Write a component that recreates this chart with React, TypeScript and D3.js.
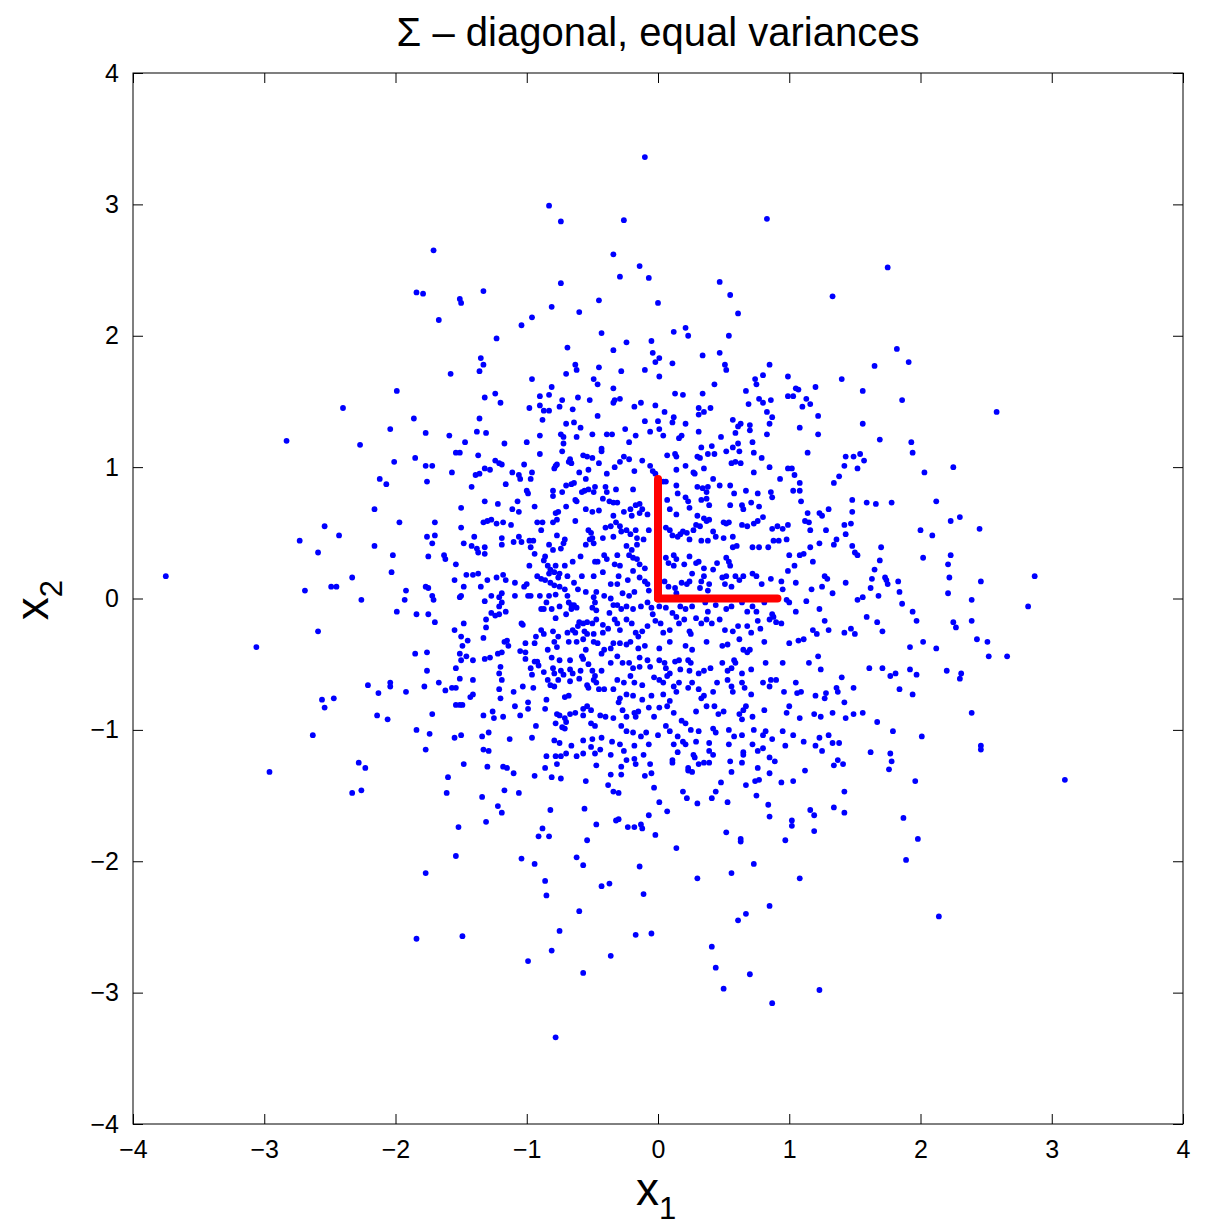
import React, { useRef, useEffect } from 'react';
import * as d3 from 'd3';

// tick values shared by both axes
const tickValues = [-4, -3, -2, -1, 0, 1, 2, 3, 4];
const chartTitle = 'Σ – diagonal, equal variances';

// eigenvector directions drawn in red from the origin
const eigenvectors = [
  [0, 0.91],
  [0.91, 0],
];

// samples
const outerLeftPoints = [
  [-2.40, 1.45], [-2.83, 1.20], [-2.27, 1.17],
  [-2.12, 0.91], [-2.16, 0.68], [-2.54, 0.55], [-2.43, 0.48], [-2.73, 0.44], [-2.59, 0.35], [-2.16, 0.40],
  [-3.75, 0.17], [-2.33, 0.16], [-2.49, 0.09], [-2.45, 0.09], [-2.69, 0.06], [-2.26, -0.01], [-2.59, -0.25],
  [-3.06, -0.37], [-2.21, -0.66], [-2.13, -0.72], [-2.56, -0.77], [-2.47, -0.76], [-2.54, -0.83], [-2.14, -0.89],
  [-2.63, -1.04], [-2.96, -1.32], [-2.28, -1.25], [-2.23, -1.29], [-2.33, -1.48], [-2.26, -1.46],
];

const upperLeftPoints = [
  [-0.83, 2.99], [-0.74, 2.87], [-1.71, 2.65], [-0.34, 2.62], [-1.84, 2.33], [-1.79, 2.32], [-1.51, 2.28], [-1.50, 2.25],
  [-1.33, 2.34], [-0.74, 2.40], [-0.81, 2.22], [-0.96, 2.14], [-1.04, 2.08], [-0.60, 2.18], [-0.45, 2.27], [-1.67, 2.12],
  [-0.43, 2.02], [-0.34, 1.89], [-1.23, 1.98], [-1.35, 1.83], [-1.33, 1.78], [-1.36, 1.73], [-1.58, 1.71], [-0.69, 1.91],
  [-0.63, 1.78], [-0.62, 1.74], [-0.70, 1.71], [-0.45, 1.76], [-0.96, 1.67], [-0.49, 1.67], [-0.46, 1.63], [-0.34, 1.60],
  [-1.99, 1.58], [-0.81, 1.61], [-0.90, 1.54], [-0.83, 1.55], [-1.24, 1.56], [-1.32, 1.53], [-1.20, 1.49], [-0.73, 1.51],
  [-0.61, 1.53], [-0.52, 1.51], [-0.34, 1.49], [-0.33, 1.51], [-0.98, 1.45], [-0.90, 1.47], [-0.87, 1.43], [-0.83, 1.43],
  [-0.75, 1.46], [-0.65, 1.44], [-0.46, 1.39], [-1.86, 1.37], [-1.36, 1.37], [-0.88, 1.36], [-0.70, 1.33], [-0.64, 1.34],
  [-0.59, 1.30], [-2.04, 1.29], [-1.77, 1.26], [-1.59, 1.24], [-1.38, 1.27], [-1.31, 1.26], [-1.47, 1.19], [-1.17, 1.18],
  [-1.00, 1.19], [-0.90, 1.24], [-0.74, 1.25], [-0.72, 1.23], [-0.72, 1.18], [-0.62, 1.23], [-0.50, 1.25], [-0.39, 1.25],
  [-0.35, 1.25], [-0.43, 1.14],
];

const upperRightPoints = [
  [-0.10, 3.36], [-0.26, 2.88], [0.83, 2.89], [-0.14, 2.53], [-0.29, 2.45], [-0.07, 2.44], [0.47, 2.41], [0.55, 2.31],
  [0.61, 2.17], [1.33, 2.30], [0.00, 2.25], [0.12, 2.03], [0.21, 2.06], [0.23, 2.00], [0.54, 2.00], [-0.24, 1.95],
  [-0.05, 1.96], [-0.04, 1.87], [0.01, 1.83], [-0.02, 1.80], [0.11, 1.79], [0.34, 1.85], [0.47, 1.87], [0.51, 1.78],
  [0.52, 1.74], [0.85, 1.78], [-0.28, 1.73], [-0.10, 1.74], [0.01, 1.69], [0.43, 1.63], [0.74, 1.67], [0.75, 1.63],
  [0.80, 1.70], [0.99, 1.69], [1.40, 1.67], [-0.29, 1.52], [-0.18, 1.46], [-0.13, 1.49], [-0.02, 1.47], [0.13, 1.56],
  [0.19, 1.55], [0.34, 1.56], [0.67, 1.58], [0.77, 1.52], [0.80, 1.49], [0.86, 1.51], [0.69, 1.48], [1.05, 1.60],
  [1.07, 1.59], [0.99, 1.54], [1.03, 1.54], [1.20, 1.61], [1.13, 1.52], [1.16, 1.48], [1.10, 1.46], [1.22, 1.39],
  [0.05, 1.42], [0.31, 1.45], [0.35, 1.42], [0.40, 1.45], [0.31, 1.40], [0.83, 1.42], [0.87, 1.38], [0.57, 1.36],
  [-0.10, 1.35], [0.00, 1.35], [0.01, 1.29], [0.11, 1.34], [0.12, 1.38], [0.21, 1.33], [-0.25, 1.29], [-0.06, 1.27],
  [-0.17, 1.24], [0.04, 1.24], [0.16, 1.22], [0.18, 1.24], [0.31, 1.27], [0.48, 1.23], [0.59, 1.26], [0.61, 1.31],
  [0.63, 1.33], [0.70, 1.32], [0.70, 1.28], [0.83, 1.25], [0.85, 1.33], [1.08, 1.30], [1.22, 1.25], [-0.22, 1.19],
  [0.33, 1.15], [0.41, 1.16], [0.57, 1.15], [0.61, 1.18], [0.72, 1.19],
  [1.75, 2.52], [1.82, 1.90], [1.65, 1.77], [1.91, 1.80], [1.56, 1.58], [1.86, 1.51], [2.58, 1.42], [1.56, 1.33],
  [1.69, 1.21], [1.93, 1.19],
];

const centerLeftPoints = [
  [-2.01, 1.04], [-1.85, 1.07], [-1.77, 1.01], [-1.72, 1.01], [-1.76, 0.89], [-2.07, 0.87], [-1.57, 0.96], [-1.54, 1.11],
  [-1.51, 1.11], [-1.37, 1.09], [-1.42, 0.85], [-1.32, 0.99], [-1.28, 0.98], [-1.39, 0.94], [-1.36, 0.95], [-1.24, 1.05],
  [-1.21, 1.03], [-1.19, 1.02], [-1.16, 0.87], [-1.11, 0.96], [-1.06, 0.94], [-1.05, 0.91], [-1.02, 1.02], [-0.96, 0.96],
  [-0.97, 0.91], [-0.90, 1.10], [-1.00, 0.82], [-0.99, 0.80], [-0.73, 1.12], [-0.78, 1.01], [-0.79, 0.99], [-0.77, 1.02],
  [-0.68, 1.04], [-0.67, 1.06], [-0.66, 1.03], [-0.57, 1.09], [-0.54, 1.08], [-0.50, 1.07], [-0.43, 1.12], [-0.45, 1.03],
  [-0.60, 0.96], [-0.53, 0.98], [-0.39, 0.95], [-0.33, 1.00], [-0.55, 0.91], [-0.70, 0.86], [-0.66, 0.87], [-0.64, 0.88],
  [-0.80, 0.82], [-0.80, 0.78], [-0.58, 0.81], [-0.56, 0.82], [-0.53, 0.83], [-0.49, 0.81], [-0.48, 0.85], [-0.40, 0.85],
  [-0.39, 0.81], [-0.42, 0.76], [-0.37, 0.74], [-0.34, 0.73], [-0.73, 0.81], [-0.63, 0.75], [-0.62, 0.74], [-0.55, 0.68],
  [-0.50, 0.66], [-0.45, 0.67], [-0.34, 0.63],
  [-1.50, 0.69], [-1.32, 0.74], [-1.22, 0.72], [-1.07, 0.74], [-1.11, 0.68], [-1.06, 0.66], [-0.94, 0.70], [-0.78, 0.65],
  [-0.76, 0.66], [-0.70, 0.70], [-1.97, 0.58], [-1.70, 0.58], [-1.50, 0.54], [-1.33, 0.58], [-1.30, 0.59], [-1.27, 0.60],
  [-1.23, 0.57], [-1.18, 0.58], [-1.12, 0.56], [-0.92, 0.58], [-0.88, 0.58], [-0.89, 0.52], [-0.80, 0.58], [-0.77, 0.60],
  [-0.63, 0.59], [-0.53, 0.52], [-0.51, 0.50], [-0.50, 0.46], [-0.52, 0.45], [-0.49, 0.42], [-0.55, 0.41], [-0.40, 0.54],
  [-0.36, 0.55], [-0.42, 0.46], [-0.34, 0.47], [-1.76, 0.47], [-1.70, 0.48], [-1.72, 0.42], [-1.48, 0.42], [-1.40, 0.47],
  [-1.42, 0.40], [-1.38, 0.38], [-1.32, 0.39], [-1.37, 0.35], [-1.32, 0.34], [-1.19, 0.46], [-1.19, 0.41], [-1.10, 0.43],
  [-1.06, 0.47], [-1.04, 0.43], [-0.98, 0.44], [-0.95, 0.44], [-0.97, 0.39], [-0.94, 0.34], [-0.83, 0.41], [-0.80, 0.37],
  [-0.77, 0.48], [-0.71, 0.45], [-0.72, 0.42], [-0.74, 0.38], [-0.86, 0.32], [-0.87, 0.29],
  [-2.02, 0.33], [-1.75, 0.32], [-1.63, 0.33], [-1.62, 0.30], [-1.54, 0.26], [-2.03, 0.20], [-0.98, 0.25], [-0.84, 0.25],
  [-0.82, 0.22], [-0.78, 0.25], [-0.71, 0.25], [-0.65, 0.28], [-0.59, 0.32], [-0.48, 0.28], [-0.46, 0.28], [-0.41, 0.33],
  [-0.39, 0.30], [-0.33, 0.26], [-0.92, 0.17], [-0.89, 0.15], [-0.86, 0.14], [-0.83, 0.19], [-0.79, 0.20], [-0.75, 0.19],
  [-0.82, 0.12], [-0.79, 0.10], [-0.75, 0.09], [-0.76, 0.16], [-0.69, 0.17], [-0.64, 0.12], [-0.58, 0.17], [-0.49, 0.17],
  [-0.42, 0.20], [-0.36, 0.11], [-1.55, 0.14], [-1.46, 0.18], [-1.41, 0.18], [-1.37, 0.19], [-1.48, 0.09], [-1.35, 0.09],
  [-1.30, 0.14], [-1.23, 0.16], [-1.18, 0.18], [-1.16, 0.14], [-1.09, 0.12], [-1.02, 0.09], [-1.00, 0.11], [-0.99, 0.02],
  [-0.97, 0.02], [-1.19, 0.04], [-1.21, 0.01], [-1.19, -0.03], [-1.27, 0.02], [-1.32, -0.02], [-1.50, 0.02], [-1.51, 0.01],
  [-1.77, 0.09], [-1.75, 0.08], [-1.92, 0.06], [-1.93, -0.01], [-1.72, 0.02], [-1.71, -0.01], [-1.09, 0.02], [-0.90, 0.02],
  [-0.83, 0.02], [-0.78, 0.03], [-0.71, 0.07], [-0.69, 0.02], [-0.61, 0.07], [-0.55, 0.05], [-0.47, 0.05], [-0.49, 0.01],
  [-0.41, 0.02], [-0.36, 0.00], [-0.34, -0.05],
  [-1.99, -0.10], [-1.84, -0.12], [-1.75, -0.12], [-1.70, -0.18], [-1.16, -0.10], [-1.21, -0.06], [-1.27, -0.11],
  [-1.24, -0.13], [-1.21, -0.12], [-1.31, -0.16], [-1.31, -0.22], [-1.04, -0.19], [-1.03, -0.20], [-0.85, -0.03],
  [-0.87, -0.08], [-0.89, -0.08], [-0.81, -0.08], [-0.78, -0.15], [-0.75, -0.06], [-0.68, -0.03], [-0.66, -0.05],
  [-0.64, -0.05], [-0.66, -0.08], [-0.62, -0.07], [-0.70, -0.12], [-0.60, -0.18], [-0.57, -0.19], [-0.54, -0.18],
  [-0.50, -0.19], [-0.47, -0.16], [-0.47, -0.09], [-0.50, -0.07], [-0.48, -0.03], [-0.37, -0.11], [-0.33, -0.16],
  [-0.42, -0.20], [-0.38, -0.23], [-1.48, -0.19], [-1.55, -0.24], [-1.50, -0.29], [-1.45, -0.32], [-1.33, -0.30],
  [-1.15, -0.32], [-1.17, -0.33], [-1.14, -0.36], [-0.93, -0.29], [-0.94, -0.34], [-0.89, -0.24], [-0.87, -0.27],
  [-0.80, -0.25], [-0.79, -0.33], [-0.76, -0.29], [-0.69, -0.26], [-0.65, -0.24], [-0.63, -0.26], [-0.61, -0.21],
  [-0.56, -0.25], [-0.54, -0.27], [-0.49, -0.27], [-0.42, -0.26], [-0.57, -0.31], [-0.68, -0.33], [-0.62, -0.33],
  [-0.49, -0.33], [-0.46, -0.34], [-0.34, -0.34], [-1.01, -0.34], [-1.05, -0.40], [-1.01, -0.41], [-0.84, -0.39],
  [-0.77, -0.37], [-0.55, -0.39], [-0.41, -0.39], [-0.36, -0.38], [-1.85, -0.42], [-1.76, -0.41], [-1.49, -0.36],
  [-1.51, -0.42],
];

const lowerLeftPoints = [
  [-1.50, -0.47], [-1.46, -0.44], [-1.41, -0.47], [-1.32, -0.46], [-1.28, -0.45], [-1.22, -0.42], [-1.19, -0.41],
  [-1.01, -0.46], [-0.94, -0.48], [-0.92, -0.48], [-0.91, -0.51], [-0.97, -0.53], [-0.81, -0.45], [-0.75, -0.47],
  [-0.67, -0.47], [-0.58, -0.44], [-0.57, -0.46], [-0.53, -0.50], [-0.43, -0.42], [-0.36, -0.49], [-1.76, -0.55],
  [-1.54, -0.53], [-1.20, -0.52], [-1.21, -0.57], [-0.96, -0.58], [-0.87, -0.56], [-0.80, -0.53], [-0.79, -0.57],
  [-0.74, -0.55], [-0.72, -0.58], [-0.67, -0.54], [-0.65, -0.57], [-0.59, -0.55], [-0.50, -0.55], [-0.48, -0.59],
  [-0.43, -0.55], [-1.67, -0.64], [-1.78, -0.67], [-2.04, -0.64], [-2.04, -0.67], [-1.92, -0.71], [-1.62, -0.70],
  [-1.57, -0.68], [-1.54, -0.68], [-1.51, -0.61], [-1.41, -0.62], [-1.19, -0.62], [-1.10, -0.71], [-1.03, -0.67],
  [-0.95, -0.68], [-0.84, -0.62], [-0.82, -0.66], [-0.79, -0.67], [-0.76, -0.62], [-0.67, -0.63], [-0.60, -0.61],
  [-0.54, -0.66], [-0.53, -0.68], [-0.49, -0.62], [-0.47, -0.64], [-0.45, -0.69], [-0.41, -0.69], [-0.34, -0.69],
  [-1.20, -0.76], [-1.21, -0.69], [-1.43, -0.75], [-1.41, -0.73], [-1.54, -0.81], [-1.51, -0.81], [-1.49, -0.81],
  [-1.72, -0.88], [-2.06, -0.92], [-1.84, -1.00], [-1.74, -1.03], [-1.33, -0.89], [-1.26, -0.86], [-1.25, -0.91],
  [-1.18, -0.90], [-1.09, -0.82], [-1.05, -0.89], [-0.99, -0.84], [-0.99, -0.79], [-0.86, -0.84], [-0.85, -0.77],
  [-0.77, -0.88], [-0.75, -0.89], [-0.71, -0.75], [-0.68, -0.74], [-0.71, -0.91], [-0.70, -0.94], [-0.93, -0.97],
  [-0.67, -0.88], [-0.63, -0.87], [-0.57, -0.84], [-0.54, -0.82], [-0.57, -0.89], [-0.51, -0.85], [-0.48, -0.97],
  [-0.51, -0.95], [-0.44, -0.89], [-0.40, -0.90], [-0.34, -0.91], [-0.73, -0.98], [-0.71, -0.99], [-0.78, -0.95],
  [-1.50, -1.04], [-1.55, -1.06], [-1.29, -1.02], [-1.34, -1.05], [-1.13, -1.07], [-0.96, -1.06], [-0.79, -1.08],
  [-0.75, -1.10], [-0.66, -1.12], [-0.57, -1.08], [-0.50, -1.07], [-0.43, -1.06], [-0.35, -1.09], [-0.51, -1.13],
  [-1.77, -1.15], [-1.33, -1.15], [-1.29, -1.16], [-1.48, -1.26], [-1.30, -1.28], [-1.18, -1.28], [-1.15, -1.29],
  [-1.10, -1.33], [-1.60, -1.36], [-1.61, -1.48], [-1.34, -1.51], [-1.17, -1.46], [-1.06, -1.48], [-1.22, -1.58],
  [-1.19, -1.63], [-1.52, -1.74], [-1.31, -1.70], [-0.94, -1.35], [-0.85, -1.20], [-0.86, -1.29], [-0.78, -1.20],
  [-0.74, -1.20], [-0.77, -1.26], [-0.70, -1.18], [-0.81, -1.36], [-0.74, -1.37], [-0.62, -1.20], [-0.57, -1.18],
  [-0.48, -1.18], [-0.44, -1.15], [-0.36, -1.19], [-0.47, -1.27], [-0.36, -1.34], [-0.55, -1.39], [-0.38, -1.42],
  [-0.34, -1.47], [-0.82, -1.61], [-0.56, -1.60], [-0.47, -1.72], [-0.32, -1.69], [-0.88, -1.75], [-0.91, -1.81],
  [-0.83, -1.81], [-0.54, -1.84], [-1.54, -1.96], [-1.77, -2.09], [-1.04, -1.98], [-0.94, -2.02], [-0.62, -1.97],
  [-0.57, -2.03], [-0.86, -2.15], [-0.85, -2.26], [-0.43, -2.19], [-0.37, -2.17], [-0.60, -2.38], [-0.75, -2.53],
  [-1.84, -2.59], [-1.49, -2.57], [-0.81, -2.68], [-0.99, -2.76], [-0.57, -2.85], [-0.36, -2.72], [-0.78, -3.34],
];

const centerRightPoints = [
  [-0.26, 1.08], [-0.22, 1.06], [-0.12, 1.05], [-0.06, 1.01], [-0.04, 0.97], [-0.02, 0.95], [-0.18, 0.97], [-0.29, 1.04],
  [0.07, 1.09], [0.13, 1.10], [0.14, 1.08], [0.21, 1.01], [0.14, 0.98], [0.27, 0.96], [0.28, 0.95], [0.30, 1.08],
  [0.32, 1.07], [0.35, 0.99], [0.38, 1.10], [0.43, 1.10], [0.52, 1.12], [0.56, 1.03], [0.59, 1.04], [0.63, 1.03],
  [0.62, 1.12], [0.73, 1.11], [0.73, 0.96], [0.79, 1.07], [0.85, 1.00], [0.93, 0.91], [0.99, 0.99], [1.02, 0.99],
  [1.04, 0.94], [1.08, 0.88], [1.14, 1.11], [1.34, 0.88], [1.38, 0.93], [1.42, 1.01], [1.43, 1.08], [0.06, 0.89],
  [0.04, 0.89], [0.14, 0.86], [0.15, 0.80], [0.21, 0.77], [0.30, 0.85], [0.34, 0.84], [0.38, 0.85], [0.37, 0.81],
  [0.42, 0.91], [0.47, 0.86], [0.55, 0.86], [0.58, 0.80], [0.67, 0.82], [0.76, 0.80], [0.86, 0.81], [0.87, 0.77],
  [0.77, 0.70], [0.71, 0.73], [0.64, 0.71], [0.65, 0.68], [0.55, 0.71], [1.03, 0.82], [1.08, 0.82], [1.09, 0.74],
  [-0.19, 0.83], [-0.32, 0.83], [-0.26, 0.66], [-0.21, 0.68], [-0.17, 0.71], [-0.14, 0.72], [-0.12, 0.68], [-0.14, 0.65],
  [-0.20, 0.63], [-0.31, 0.73], [-0.08, 0.64], [0.07, 0.75], [0.09, 0.68], [0.14, 0.64], [0.23, 0.74], [0.24, 0.69],
  [0.33, 0.75], [0.37, 0.76], [0.39, 0.71],
  [-0.32, 0.58], [-0.29, 0.55], [-0.28, 0.51], [-0.24, 0.52], [-0.21, 0.49], [-0.17, 0.52], [-0.16, 0.46], [-0.11, 0.45],
  [-0.24, 0.40], [-0.20, 0.37], [-0.16, 0.41], [-0.07, 0.52], [0.06, 0.54], [0.09, 0.52], [0.11, 0.48], [0.15, 0.47],
  [0.17, 0.49], [0.19, 0.51], [0.22, 0.50], [0.24, 0.45], [0.27, 0.52], [0.30, 0.63], [0.35, 0.61], [0.37, 0.59],
  [0.39, 0.60], [0.29, 0.56], [0.32, 0.55], [0.42, 0.51], [0.44, 0.47], [0.50, 0.58], [0.52, 0.57], [0.54, 0.58],
  [0.57, 0.47], [0.64, 0.56], [0.68, 0.55], [0.73, 0.57], [0.76, 0.59], [0.80, 0.62], [0.87, 0.53], [0.91, 0.55],
  [0.95, 0.53], [0.99, 0.56], [0.88, 0.44], [0.92, 0.44], [0.98, 0.45], [0.77, 0.39], [0.84, 0.39], [0.72, 0.39],
  [0.57, 0.39], [0.60, 0.40], [0.50, 0.46], [0.33, 0.44], [0.38, 0.44], [1.14, 0.65], [1.23, 0.65], [1.25, 0.63],
  [1.30, 0.68], [1.12, 0.59], [1.15, 0.58], [1.16, 0.52], [1.28, 0.52], [1.34, 0.41], [1.36, 0.45], [1.42, 0.56],
  [1.43, 0.49], [1.16, 0.39], [1.23, 0.42],
  [-0.31, 0.33], [-0.29, 0.25], [-0.30, 0.17], [-0.31, 0.11], [-0.22, 0.33], [-0.19, 0.31], [-0.16, 0.30], [-0.14, 0.26],
  [-0.10, 0.23], [-0.19, 0.21], [-0.23, 0.14], [-0.14, 0.16], [-0.10, 0.13], [-0.08, 0.11], [-0.07, 0.06], [-0.27, 0.04],
  [-0.22, 0.02], [-0.18, 0.05], [0.06, 0.31], [0.12, 0.33], [0.14, 0.30], [0.08, 0.27], [0.12, 0.25], [0.24, 0.32],
  [0.29, 0.27], [0.31, 0.28], [0.20, 0.26], [0.26, 0.19], [0.35, 0.23], [0.42, 0.22], [0.45, 0.27], [0.52, 0.31],
  [0.54, 0.28], [0.55, 0.25], [0.49, 0.16], [0.52, 0.17], [0.59, 0.17], [0.62, 0.14], [0.65, 0.17], [0.72, 0.19],
  [0.75, 0.17], [0.79, 0.11], [0.86, 0.15], [0.94, 0.13], [0.99, 0.21], [1.00, 0.33], [1.08, 0.33], [1.11, 0.34],
  [1.04, 0.25], [1.18, 0.28], [1.27, 0.17], [1.29, 0.15], [1.25, 0.09], [1.17, 0.07], [1.05, 0.12], [1.33, 0.04],
  [1.43, 0.12], [0.18, 0.12], [0.22, 0.11], [0.24, 0.13], [0.33, 0.13], [0.35, 0.17], [0.39, 0.11], [0.13, 0.08],
  [0.14, 0.04], [0.05, 0.13], [0.08, 0.09], [0.32, 0.08], [0.38, 0.06], [0.51, 0.11], [0.56, 0.09],
  [-0.31, -0.05], [-0.28, -0.08], [-0.24, -0.06], [-0.19, -0.08], [-0.13, -0.06], [-0.08, -0.03], [-0.05, -0.07],
  [-0.04, -0.12], [0.01, -0.06], [0.06, -0.07], [0.11, -0.11], [0.14, -0.14], [0.17, -0.06], [0.21, -0.08],
  [0.26, -0.06], [0.29, -0.15], [0.36, -0.03], [0.38, -0.10], [0.44, -0.05], [0.52, -0.08], [0.56, -0.06],
  [0.64, -0.03], [0.68, -0.10], [0.72, -0.06], [0.75, -0.10], [0.81, -0.03], [0.85, -0.16], [0.87, -0.12],
  [0.95, 0.07], [0.98, -0.01], [1.00, -0.03], [0.94, -0.19], [1.05, -0.10], [1.13, -0.02], [1.23, -0.08],
  [1.27, -0.17], [1.30, -0.24], [1.42, -0.26], [1.18, -0.24], [1.21, -0.27], [1.07, -0.32], [1.11, -0.31],
  [1.00, -0.34], [0.88, -0.14], [0.90, -0.18], [-0.31, -0.19], [-0.29, -0.24], [-0.24, -0.16], [-0.20, -0.19],
  [-0.17, -0.26], [-0.15, -0.29], [-0.12, -0.25], [-0.08, -0.21], [-0.02, -0.17], [0.02, -0.19], [0.09, -0.24],
  [0.04, -0.26], [0.16, -0.19], [0.20, -0.16], [0.24, -0.25], [0.25, -0.27], [0.33, -0.19], [0.37, -0.16],
  [0.41, -0.19], [0.47, -0.16], [0.51, -0.24], [0.57, -0.25], [0.61, -0.21], [0.68, -0.21], [0.71, -0.26],
  [0.76, -0.17], [0.78, -0.23], [0.81, -0.33], [-0.29, -0.34], [-0.24, -0.35], [-0.21, -0.33], [-0.15, -0.38],
  [-0.10, -0.36], [0.01, -0.38], [0.09, -0.33], [0.21, -0.36], [0.26, -0.39], [0.37, -0.33], [0.49, -0.36],
  [0.53, -0.35], [0.62, -0.31], [0.65, -0.39], [0.70, -0.39],
];

const lowerRightPoints = [
  [-0.31, -0.44], [-0.27, -0.49], [-0.22, -0.49], [-0.19, -0.53], [-0.14, -0.45], [-0.14, -0.52], [-0.08, -0.47],
  [-0.06, -0.52], [0.01, -0.47], [0.05, -0.49], [0.06, -0.53], [0.09, -0.57], [0.13, -0.48], [0.16, -0.47],
  [0.23, -0.47], [0.25, -0.49], [0.17, -0.54], [0.24, -0.55], [0.31, -0.57], [0.35, -0.55], [0.40, -0.53],
  [0.49, -0.49], [0.53, -0.55], [0.56, -0.53], [0.58, -0.47], [0.59, -0.49], [0.64, -0.57], [0.68, -0.41],
  [0.71, -0.54], [0.82, -0.49], [0.90, -0.62], [0.86, -0.62], [0.95, -0.49], [1.05, -0.64], [1.15, -0.49],
  [1.22, -0.44], [1.24, -0.54], [1.40, -0.60], [-0.31, -0.62], [-0.26, -0.64], [-0.21, -0.59], [-0.18, -0.64],
  [-0.12, -0.66], [-0.03, -0.60], [0.01, -0.62], [0.04, -0.64], [0.07, -0.59], [0.12, -0.67], [0.14, -0.71],
  [0.16, -0.64], [0.23, -0.68], [0.26, -0.64], [0.31, -0.69], [0.35, -0.74], [0.33, -0.76], [0.42, -0.71],
  [0.45, -0.64], [0.53, -0.62], [0.56, -0.67], [0.57, -0.71], [0.64, -0.64], [0.66, -0.68], [0.71, -0.73],
  [0.80, -0.64], [0.85, -0.67], [0.96, -0.71], [1.06, -0.72], [1.09, -0.71], [1.20, -0.74], [1.27, -0.76],
  [1.28, -0.72], [1.36, -0.68], [1.37, -0.71], [1.42, -0.79], [-0.29, -0.76], [-0.24, -0.73], [-0.19, -0.74],
  [-0.12, -0.77], [-0.05, -0.74], [0.04, -0.73], [0.09, -0.78],
  [-0.30, -0.79], [-0.27, -0.85], [-0.24, -0.90], [-0.18, -0.87], [-0.17, -0.90], [-0.15, -0.86], [-0.07, -0.83],
  [-0.03, -0.90], [0.01, -0.83], [0.07, -0.82], [0.12, -0.87], [0.18, -0.93], [0.21, -0.95], [0.29, -0.86],
  [0.37, -0.82], [0.43, -0.82], [0.46, -0.88], [0.50, -0.86], [0.67, -0.82], [0.65, -0.85], [0.62, -0.88],
  [0.64, -0.92], [0.72, -0.90], [0.81, -0.85], [1.00, -0.82], [0.98, -0.87], [1.08, -0.91], [1.19, -0.88],
  [1.24, -0.90], [1.33, -0.87], [1.43, -0.91], [-0.28, -0.97], [-0.24, -1.01], [-0.19, -1.02], [-0.13, -1.05],
  [-0.09, -1.02], [0.00, -1.04], [0.06, -0.97], [0.09, -1.01], [0.15, -1.05], [0.19, -1.09], [0.25, -1.00],
  [0.31, -1.01], [0.42, -0.99], [0.44, -1.02], [0.54, -1.00], [0.58, -1.05], [0.64, -1.04], [0.73, -1.00],
  [0.80, -1.04], [0.82, -1.01], [0.87, -1.07], [0.95, -1.01], [1.03, -1.04], [1.11, -1.09], [1.23, -1.06],
  [1.30, -1.04], [1.33, -1.10], [-0.29, -1.11], [-0.18, -1.12], [-0.07, -1.11], [0.12, -1.11], [0.21, -1.11],
  [0.29, -1.09], [0.39, -1.10], [0.54, -1.11], [0.72, -1.11], [0.80, -1.14], [0.97, -1.12], [1.20, -1.12],
  [1.38, -1.10],
  [-0.26, -1.16], [-0.24, -1.23], [-0.18, -1.22], [-0.17, -1.26], [-0.11, -1.19], [-0.06, -1.26], [-0.28, -1.28],
  [-0.28, -1.34], [-0.10, -1.35], [-0.05, -1.33], [-0.03, -1.44], [-0.30, -1.48], [0.01, -1.55], [0.07, -1.62],
  [-0.07, -1.65], [-0.30, -1.68], [-0.23, -1.74], [-0.18, -1.74], [-0.13, -1.72], [-0.12, -1.75], [-0.02, -1.80],
  [0.15, -1.17], [0.11, -1.23], [0.11, -1.25], [0.27, -1.19], [0.28, -1.21], [0.23, -1.29], [0.23, -1.31],
  [0.26, -1.32], [0.31, -1.26], [0.35, -1.25], [0.39, -1.25], [0.39, -1.16], [0.42, -1.19], [0.55, -1.24],
  [0.56, -1.32], [0.64, -1.25], [0.65, -1.17], [0.65, -1.19], [0.76, -1.16], [0.76, -1.29], [0.85, -1.21],
  [0.89, -1.24], [0.85, -1.33], [0.19, -1.47], [0.22, -1.52], [0.30, -1.56], [0.41, -1.52], [0.44, -1.47],
  [0.48, -1.40], [0.53, -1.55], [0.67, -1.42], [0.74, -1.39], [0.77, -1.38], [0.75, -1.50], [0.84, -1.57],
  [0.85, -1.66], [0.94, -1.40], [1.03, -1.39], [1.12, -1.31], [1.25, -1.16], [1.37, -1.23], [1.34, -1.27],
  [1.41, -1.26], [1.42, -1.47], [1.34, -1.59], [1.42, -1.63], [1.16, -1.61], [1.19, -1.65], [1.02, -1.69],
  [1.02, -1.73], [1.19, -1.77], [0.97, -1.84], [0.52, -1.78], [0.63, -1.83], [0.63, -1.85], [0.14, -1.90],
  [-0.14, -2.04], [0.30, -2.13], [0.56, -2.09], [0.73, -2.02], [1.08, -2.13], [-0.11, -2.25], [0.85, -2.34],
  [0.67, -2.40], [0.61, -2.45], [-0.17, -2.56], [-0.05, -2.55], [0.41, -2.65], [0.44, -2.81], [0.70, -2.86],
  [0.50, -2.97], [1.23, -2.98], [0.87, -3.08],
];

const outerRightPoints = [
  [1.49, 1.08], [1.54, 1.10], [1.57, 1.05], [1.52, 0.99], [1.94, 1.11], [2.25, 1.00], [2.03, 0.96], [1.48, 0.75],
  [1.59, 0.73], [1.66, 0.72], [1.78, 0.73], [2.12, 0.74], [1.48, 0.66], [1.47, 0.57], [2.23, 0.59], [2.30, 0.62],
  [2.00, 0.52], [2.09, 0.48], [2.45, 0.53], [1.48, 0.40], [1.50, 0.35], [1.52, 0.33], [1.70, 0.39], [1.69, 0.29],
  [2.02, 0.31], [2.23, 0.33], [2.21, 0.26], [1.65, 0.22], [1.63, 0.15], [1.73, 0.16], [1.74, 0.14], [1.75, 0.11],
  [1.83, 0.13], [2.22, 0.16], [2.46, 0.13], [2.87, 0.17], [1.62, 0.08], [1.84, 0.05], [1.52, -0.01], [1.56, 0.01],
  [1.68, 0.02], [1.86, -0.04], [2.21, 0.04], [2.39, -0.01], [2.82, -0.06], [1.94, -0.10], [1.97, -0.17],
  [1.59, -0.14], [1.67, -0.18], [1.71, -0.25], [1.47, -0.23], [1.50, -0.27], [2.25, -0.18], [2.27, -0.22],
  [2.39, -0.17], [2.43, -0.31], [2.51, -0.33], [2.52, -0.44], [2.66, -0.44], [1.92, -0.37], [2.02, -0.33],
  [2.12, -0.38], [1.61, -0.53], [1.71, -0.53], [1.77, -0.59], [1.81, -0.57], [1.92, -0.54], [1.97, -0.58],
  [2.20, -0.55], [2.30, -0.61], [2.31, -0.57], [1.49, -0.68], [1.84, -0.69], [1.94, -0.73], [1.49, -0.88],
  [1.56, -0.87], [1.67, -0.94], [1.79, -1.01], [2.01, -1.05], [2.39, -0.87], [2.46, -1.12],
  [1.62, -1.17], [1.77, -1.18], [1.78, -1.24], [1.76, -1.30], [1.96, -1.39], [2.46, -1.15], [3.10, -1.38],
  [1.87, -1.67], [1.98, -1.83], [1.89, -1.99], [2.14, -2.42],
];

const allPoints = [
  ...outerLeftPoints, ...upperLeftPoints, ...upperRightPoints, ...centerLeftPoints,
  ...lowerLeftPoints, ...centerRightPoints, ...lowerRightPoints, ...outerRightPoints,
];

const App = () => {
  const svgRef = useRef(null);

  useEffect(() => {
    const svg = d3.select(svgRef.current);
    svg.selectAll('*').remove();

    const font = '"Liberation Sans", Arial, Helvetica, sans-serif';
    const left = 133, right = 1183, top = 73, bottom = 1124;

    const x = d3.scaleLinear().domain([-4, 4]).range([left, right]);
    const y = d3.scaleLinear().domain([-4, 4]).range([bottom, top]);

    // data points
    svg.append('g')
      .selectAll('circle')
      .data(allPoints)
      .enter()
      .append('circle')
      .attr('cx', d => x(d[0]))
      .attr('cy', d => y(d[1]))
      .attr('r', 2.9)
      .attr('fill', '#0000ff');

    // eigenvectors
    svg.append('g')
      .selectAll('line')
      .data(eigenvectors)
      .enter()
      .append('line')
      .attr('x1', x(0))
      .attr('y1', y(0))
      .attr('x2', d => x(d[0]))
      .attr('y2', d => y(d[1]))
      .attr('stroke', '#ff0000')
      .attr('stroke-width', 8)
      .attr('stroke-linecap', 'round');

    // axes: ticks pointing inward on all four sides
    const styleAxis = g => {
      g.select('.domain').remove();
      g.selectAll('line').attr('stroke', '#000');
      g.selectAll('text').attr('fill', '#000').style('font-family', font).style('font-size', '25px');
    };

    svg.append('g')
      .attr('transform', `translate(0,${bottom})`)
      .call(d3.axisBottom(x).tickValues(tickValues).tickSize(-10).tickPadding(16))
      .call(styleAxis);
    svg.append('g')
      .attr('transform', `translate(0,${top})`)
      .call(d3.axisTop(x).tickValues(tickValues).tickSize(-10).tickFormat(() => ''))
      .call(styleAxis);
    svg.append('g')
      .attr('transform', `translate(${left},0)`)
      .call(d3.axisLeft(y).tickValues(tickValues).tickSize(-10).tickPadding(14))
      .call(styleAxis);
    svg.append('g')
      .attr('transform', `translate(${right},0)`)
      .call(d3.axisRight(y).tickValues(tickValues).tickSize(-10).tickFormat(() => ''))
      .call(styleAxis);

    // box
    svg.append('rect')
      .attr('x', left)
      .attr('y', top)
      .attr('width', right - left)
      .attr('height', bottom - top)
      .attr('fill', 'none')
      .attr('stroke', '#000')
      .attr('stroke-width', 1);

    // title
    svg.append('text')
      .attr('x', (left + right) / 2)
      .attr('y', 46)
      .attr('text-anchor', 'middle')
      .style('font-family', font)
      .style('font-size', '40px')
      .text(chartTitle);

    // x label
    const xl = svg.append('text')
      .attr('x', 656)
      .attr('y', 1205)
      .attr('text-anchor', 'middle')
      .style('font-family', font)
      .style('font-size', '46px');
    xl.append('tspan').text('x');
    xl.append('tspan').attr('dy', 14).style('font-size', '31px').text('1');

    // y label
    const yl = svg.append('text')
      .attr('transform', 'translate(48,600) rotate(-90)')
      .attr('text-anchor', 'middle')
      .style('font-family', font)
      .style('font-size', '46px');
    yl.append('tspan').text('x');
    yl.append('tspan').attr('dy', 14).style('font-size', '31px').text('2');
  }, []);

  return (
    <svg
      ref={svgRef}
      width={1211}
      height={1226}
      style={{ position: 'absolute', left: 0, top: 0, background: '#fff' }}
    />
  );
};

export default App;
